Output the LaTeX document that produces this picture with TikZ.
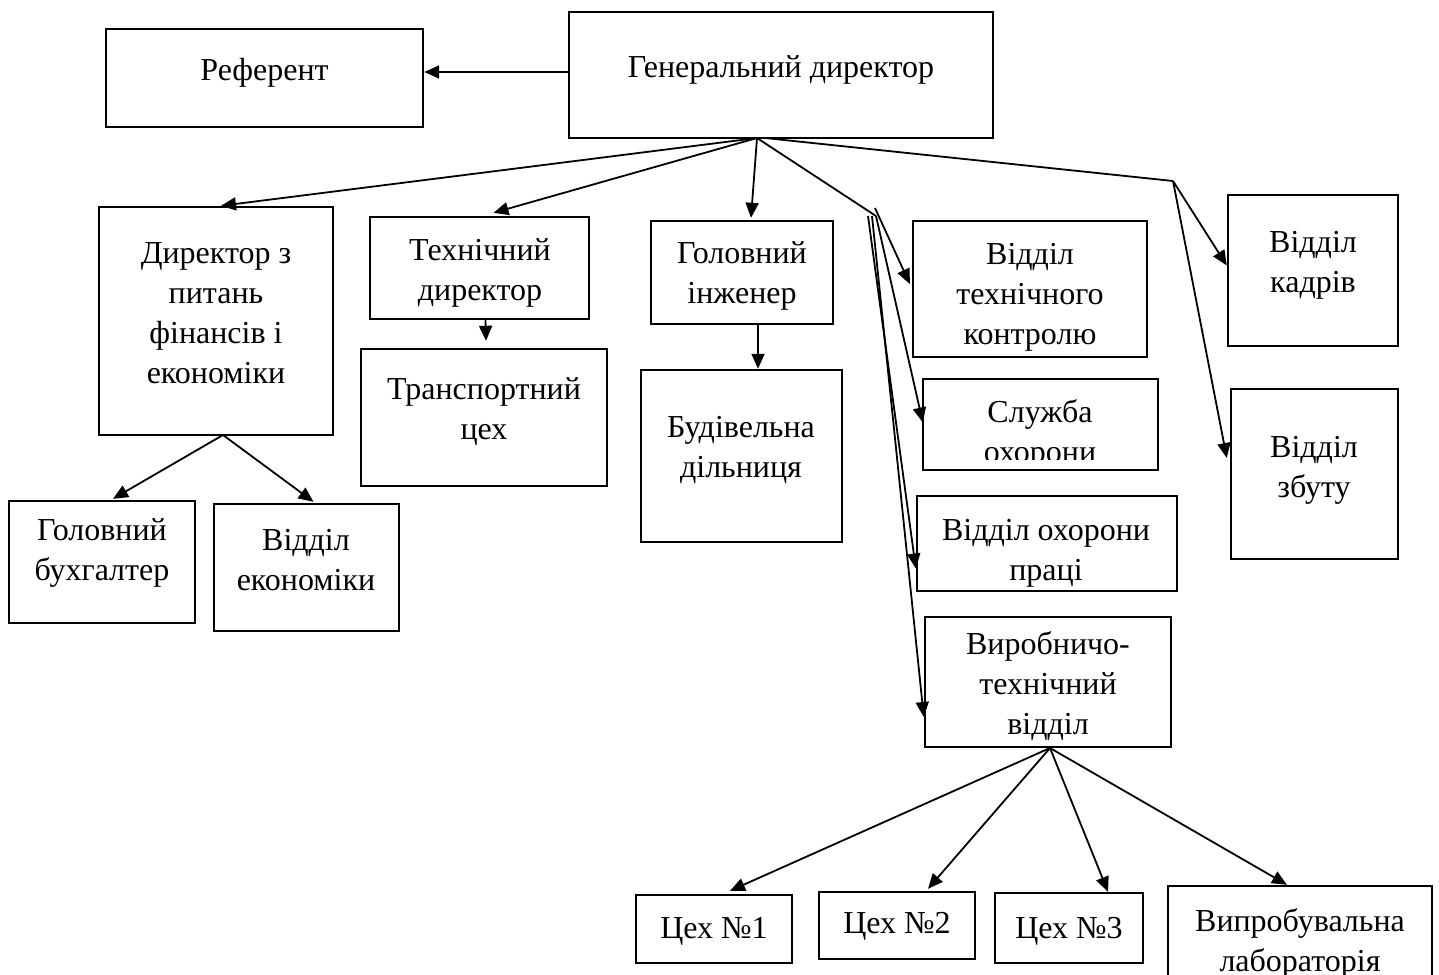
\documentclass[tikz,border=0pt]{standalone}
\usepackage{fontspec}
\setmainfont{Liberation Serif}
\usetikzlibrary{arrows.meta,calc}
\begin{document}
\begin{tikzpicture}[x=1pt,y=-1pt,
  box/.style={draw, line width=2.4pt, inner sep=0pt, rectangle},
  txt/.style={align=center, inner sep=0pt, font=\fontsize{32}{40}\selectfont,
    execute at begin node=\strut, execute at end node=\strut},
  conn/.style={line width=1.8pt},
  arr/.style={conn, -{Triangle[length=15pt,width=13pt]}}]
\useasboundingbox (0,0) rectangle (1439,974);
% boxes
\node[box, minimum width=317pt, minimum height=98pt]  (ref)   at (264.5,78) {};
\node[box, minimum width=424pt, minimum height=126pt] (gen)   at (781,75) {};
\node[box, minimum width=234pt, minimum height=228pt] (dfin)  at (216,321) {};
\node[box, minimum width=219pt, minimum height=102pt] (tdir)  at (479.5,268) {};
\node[box, minimum width=246pt, minimum height=137pt] (trans) at (484,417.5) {};
\node[box, minimum width=182pt, minimum height=103pt] (gi)    at (742,272.5) {};
\node[box, minimum width=201pt, minimum height=172pt] (bud)   at (741.5,456) {};
\node[box, minimum width=234pt, minimum height=136pt] (vtk)   at (1030,289) {};
\node[box, minimum width=235pt, minimum height=91pt]  (sl)    at (1040.5,424.5) {};
\node[box, minimum width=260pt, minimum height=95pt]  (op)    at (1047,543.5) {};
\node[box, minimum width=246pt, minimum height=130pt] (vir)   at (1048,682) {};
\node[box, minimum width=170pt, minimum height=151pt] (kad)   at (1313,270.5) {};
\node[box, minimum width=167pt, minimum height=170pt] (zb)    at (1314.5,474) {};
\node[box, minimum width=186pt, minimum height=122pt] (bux)   at (102,562) {};
\node[box, minimum width=185pt, minimum height=127pt] (ek)    at (306.5,567.5) {};
\node[box, minimum width=156pt, minimum height=68pt]  (c1)    at (714,929) {};
\node[box, minimum width=156pt, minimum height=67pt]  (c2)    at (897,925.5) {};
\node[box, minimum width=148pt, minimum height=70pt]  (c3)    at (1069,928) {};
\node[box, minimum width=264pt, minimum height=114pt] (lab)   at (1300,943) {};
% texts
\node[txt] (tref)   at (264.5,72) {Референт};
\node[txt] (tgen)   at (781,70) {Генеральний директор};
\node[txt] (tdfin)  at (216,319) {Директор з\\питань\\фінансів і\\економіки};
\node[txt] (ttdir)  at (480,276) {Технічний\\директор};
\node[txt] (ttrans) at (484,415) {Транспортний\\цех};
\node[txt] (tgi)    at (742,279) {Головний\\інженер};
\node[txt] (tbud)   at (741,453) {Будівельна\\дільниця};
\node[txt] (tvtk)   at (1030,300) {Відділ\\технічного\\контролю};
\begin{scope}
\clip (sl.north west) rectangle (1160,459);
\node[txt] (tsl) at (1040,437) {Служба\\охорони};
\end{scope}
\node[txt] (top)    at (1046,556) {Відділ охорони\\праці};
\node[txt] (tvir)   at (1048,689) {Виробничо-\\технічний\\відділ};
\node[txt] (tkad)   at (1313,268) {Відділ\\кадрів};
\node[txt] (tzb)    at (1314,473) {Відділ\\збуту};
\node[txt] (tbux)   at (102,556) {Головний\\бухгалтер};
\node[txt] (tek)    at (306,566) {Відділ\\економіки};
\node[txt] (tc1)    at (714,930) {Цех №1};
\node[txt] (tc2)    at (897,925) {Цех №2};
\node[txt] (tc3)    at (1069,930) {Цех №3};
\node[txt] (tlab)   at (1300,946) {Випробувальна\\лабораторія};
% hubs
\coordinate (h1) at (757,138);
\coordinate (h1b) at (765,138);
\coordinate (h2) at (876,216);
\coordinate (h2a) at (875,208);
\coordinate (h2b) at (868,216);
\coordinate (h2c) at (872,216);
\coordinate (h3) at (1173,181);
\coordinate (hd) at (223,435);
\coordinate (hv) at (1050,748);
% connectors
\draw[arr] (gen.west |- 0,72) -- (ref.east |- 0,72);
\draw[arr] (h1) -- ($(dfin.north)+(5,0)$);
\draw[arr] (h1) -- ($(tdir.north)+(14,-3)$);
\draw[arr] (h1) -- ($(gi.north)+(9,-2)$);
\draw[conn] (h1) -- (h2);
\draw[conn] (h1b) -- (h3);
\draw[arr] (h2a) -- ($(vtk.west)+(-2,-5)$);
\draw[arr] (h2) -- ($(sl.west)+(1,-2)$);
\draw[arr] (h2b) -- ($(op.west)+(0,25)$);
\draw[arr] (h2c) -- ($(vir.west)+(0,35)$);
\draw[arr] (h3) -- ($(kad.west)+(0,-5)$);
\draw[arr] (h3) -- ($(zb.west)+(-3,-16)$);
\draw[arr] ($(tdir.south)+(6,0)$) -- ($(trans.north)+(2,-7)$);
\draw[arr] ($(gi.south)+(16,0)$) -- ($(bud.north)+(16.5,0)$);
\draw[arr] (hd) -- ($(bux.north)+(11,-1)$);
\draw[arr] (hd) -- ($(ek.north)+(7,-1)$);
\draw[arr] (hv) -- ($(c1.north)+(16,-3)$);
\draw[arr] (hv) -- ($(c2.north)+(31,-2)$);
\draw[arr] (hv) -- ($(c3.north)+(39,0)$);
\draw[arr] (hv) -- ($(lab.north)+(-13,0)$);
\end{tikzpicture}
\end{document}
